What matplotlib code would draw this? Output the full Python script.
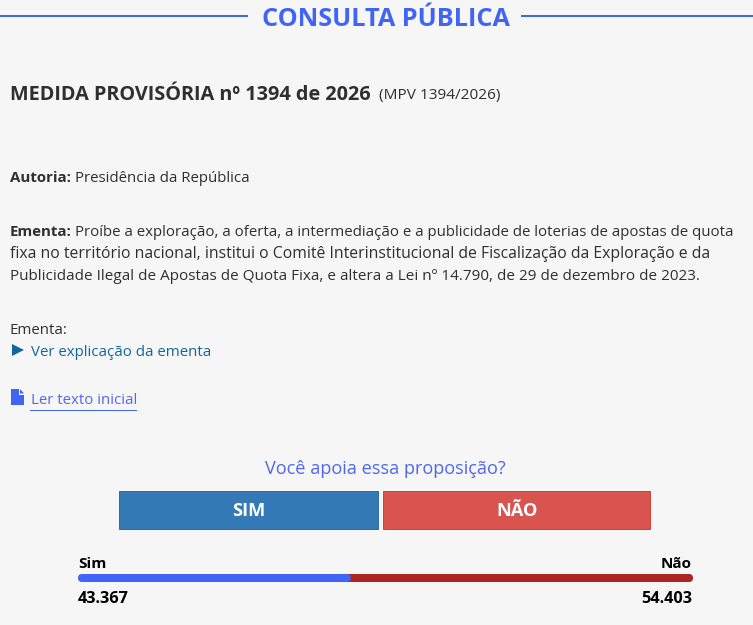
import matplotlib
matplotlib.use("Agg")
import matplotlib.pyplot as plt
from matplotlib.patches import FancyBboxPatch, Rectangle, Polygon

W, H = 753, 625
BG = "#f6f6f6"
BLUE = "#4064f5"
RED = "#ab2622"
DARK = "#2f2f2f"
LINK = "#10689a"

title = "CONSULTA PÚBLICA"
heading = "MEDIDA PROVISÓRIA nº 1394 de 2026"
heading_small = "(MPV 1394/2026)"
ementa_lines = [
    "Proíbe a exploração, a oferta, a intermediação e a publicidade de loterias de apostas de quota",
    "fixa no território nacional, institui o Comitê Interinstitucional de Fiscalização da Exploração e da",
    "Publicidade Ilegal de Apostas de Quota Fixa, e altera a Lei nº 14.790, de 29 de dezembro de 2023.",
]
vote_labels = ["Sim", "Não"]
vote_values = [43367, 54403]
vote_text = ["43.367", "54.403"]

plt.rcParams["font.family"] = ["Open Sans", "Noto Sans", "DejaVu Sans"]
fig = plt.figure(figsize=(W / 100, H / 100), dpi=100, facecolor=BG)
ax = fig.add_axes([0, 0, 1, 1])
ax.set_xlim(0, W)
ax.set_ylim(H, 0)
ax.axis("off")

PT = 0.72  # px to pt


def t(x, y, s, size, color=DARK, weight="normal", ha="left"):
    return ax.text(x, y, s, fontsize=size * PT, color=color, fontweight=weight,
                   ha=ha, va="center_baseline")


# Title rule
ax.add_patch(Rectangle((0, 15), 248, 2, fc=BLUE, ec="none"))
ax.add_patch(Rectangle((521, 15), 232, 2, fc=BLUE, ec="none"))
t(385.5, 16, title, 25.2, BLUE, "bold", "center")

t(10, 92, heading, 19.9, DARK, "bold")
t(379, 93.5, heading_small, 15.4, DARK)

t(10, 177, "Autoria:", 15, DARK, "bold")
t(75.5, 177, "Presidência da República", 15.05, DARK)

t(10, 230, "Ementa:", 15, DARK, "bold")
t(75.5, 230, ementa_lines[0], 15.05, DARK)
t(10, 252, ementa_lines[1], 15.7, DARK)
t(10, 274, ementa_lines[2], 15.2, DARK)

t(10, 328, "Ementa:", 15, DARK)
ax.add_patch(Polygon([(12, 344), (24, 350), (12, 356)], closed=True, fc=LINK, ec="none"))
t(31, 351, "Ver explicação da ementa", 15, LINK)

# File icon
ax.add_patch(Polygon([(11, 389), (19, 389), (19, 394.5), (24, 394.5), (24, 405), (11, 405)],
                     closed=True, fc=BLUE, ec="none"))
ax.add_patch(Polygon([(20, 389), (24, 393.5), (20, 393.5)], closed=True, fc=BLUE, ec="none"))
t(31, 399, "Ler texto inicial", 15, "#5566f0")
ax.add_patch(Rectangle((30, 410), 107, 1, fc=BLUE, ec="none"))

t(385, 467, "Você apoia essa proposição?", 18.1, "#4f66ee", ha="center")

# Buttons
ax.add_patch(Rectangle((119.5, 491), 259, 37.5, fc="#337ab7", ec="#2e6da4", lw=PT))
ax.add_patch(Rectangle((383.5, 491), 267, 37.5, fc="#d9534f", ec="#d43f3a", lw=PT))
t(249, 509.5, "SIM", 18.3, "white", "bold", "center")
t(517, 509.5, "NÃO", 18.3, "white", "bold", "center")

# Vote labels
t(78, 563, vote_labels[0], 15.3, "black", "bold")
t(692, 563, vote_labels[1], 15.3, "black", "bold", "right")
t(78, 597, vote_text[0], 16.2, "black", "bold")
t(692, 597, vote_text[1], 16.2, "black", "bold", "right")

# Vote bar, drawn from the values
bx = fig.add_axes([78 / W, 1 - 582 / H, 615 / W, 8 / H])
bx.axis("off")
total = sum(vote_values)
bx.set_xlim(0, total)
bx.set_ylim(0, 1)


def pill(x, width):
    p = FancyBboxPatch((x + 4, 578), width - 8, 0.001, boxstyle="round,pad=4",
                       transform=ax.transData, fc="none", ec="none")
    ax.add_patch(p)
    return p


# red runs beneath the blue so the blue's rounded end sits on it
overlap = total * 8 / 615
red = bx.barh(0.5, vote_values[1] + overlap, left=vote_values[0] - overlap, height=1,
              color=RED, lw=0)
red[0].set_clip_path(pill(78, 615))
blue = bx.barh(0.5, vote_values[0], left=0, height=1, color=BLUE, lw=0)
blue[0].set_clip_path(pill(78, vote_values[0] / total * 615))

fig.savefig("out.png", dpi=100, facecolor=BG)
